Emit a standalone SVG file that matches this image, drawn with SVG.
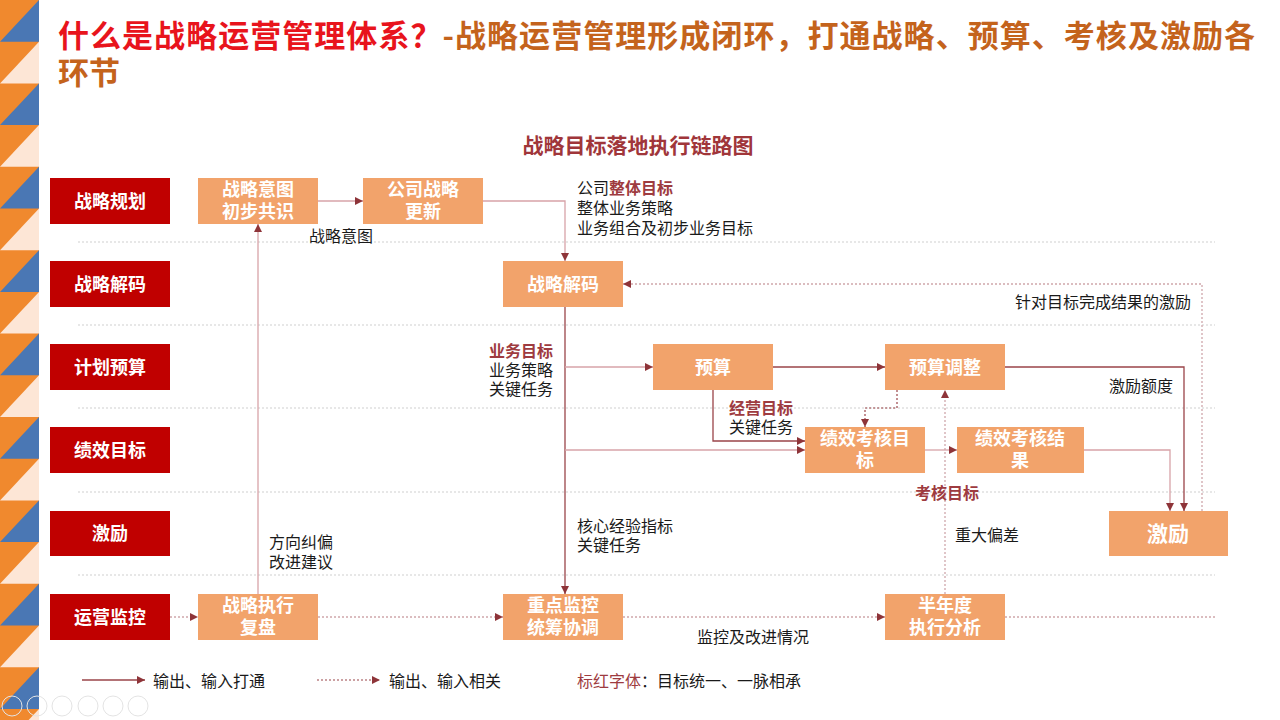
<svg xmlns="http://www.w3.org/2000/svg" width="1280" height="720" viewBox="0 0 1280 720">
<defs>
<style>
text{font-family:"Noto Sans CJK SC","Noto Sans",sans-serif;}
.rl{fill:#c00000;}
.rlt{fill:#ffffff;font-size:18px;font-weight:bold;text-anchor:middle;}
.nd{fill:#f2a36b;}
.ndt{fill:#ffffff;font-size:18px;font-weight:bold;text-anchor:middle;}
.lb{fill:#1a1a1a;font-size:16px;}
.red{fill:#9e3b40;font-weight:bold;}
.sep{stroke:#cfcfcf;stroke-width:1;stroke-dasharray:2 2;fill:none;}
.sl{stroke:#d7a3a8;stroke-width:1.3;fill:none;}
.sd{stroke:#9a4449;stroke-width:1.3;fill:none;}
.dl{stroke:#cfa7ab;stroke-width:1.3;stroke-dasharray:2 2;fill:none;}
.dd{stroke:#9a4449;stroke-width:1.2;stroke-dasharray:2 2;fill:none;}
</style>
<marker id="ah" viewBox="0 0 10 10" refX="10" refY="5" markerWidth="8" markerHeight="8" markerUnits="userSpaceOnUse" orient="auto">
<path d="M0,0 L10,5 L0,10 z" fill="#8e3439"/>
</marker>
</defs>
<rect width="1280" height="720" fill="#ffffff"/>
<g id="strip">
<rect x="0" y="0" width="39" height="720" fill="#f0892e"/>
<polygon points="0,41.7 39,0 39,41.7" fill="#4a77b4"/>
<polygon points="0,83.4 39,41.7 39,83.4" fill="#fde6d6"/>
<polygon points="0,125.1 39,83.4 39,125.1" fill="#4a77b4"/>
<polygon points="0,166.8 39,125.1 39,166.8" fill="#fde6d6"/>
<polygon points="0,208.5 39,166.8 39,208.5" fill="#4a77b4"/>
<polygon points="0,250.2 39,208.5 39,250.2" fill="#fde6d6"/>
<polygon points="0,291.9 39,250.2 39,291.9" fill="#4a77b4"/>
<polygon points="0,333.6 39,291.9 39,333.6" fill="#fde6d6"/>
<polygon points="0,375.3 39,333.6 39,375.3" fill="#4a77b4"/>
<polygon points="0,417 39,375.3 39,417" fill="#fde6d6"/>
<polygon points="0,458.7 39,417 39,458.7" fill="#4a77b4"/>
<polygon points="0,500.4 39,458.7 39,500.4" fill="#fde6d6"/>
<polygon points="0,542.1 39,500.4 39,542.1" fill="#4a77b4"/>
<polygon points="0,583.8 39,542.1 39,583.8" fill="#fde6d6"/>
<polygon points="0,625.5 39,583.8 39,625.5" fill="#4a77b4"/>
<polygon points="0,667.2 39,625.5 39,667.2" fill="#fde6d6"/>
<polygon points="0,708.9 39,667.2 39,708.9" fill="#4a77b4"/>
<polygon points="0,750.6 39,708.9 39,750.6" fill="#fde6d6"/>
</g>
<g id="title">
<text x="58" y="47" font-size="31" font-weight="bold" textLength="1197" lengthAdjust="spacing"><tspan fill="#e8141c">什么是战略运营管理体系？</tspan><tspan fill="#c4631c">-战略运营管理形成闭环，打通战略、预算、考核及激励各</tspan></text>
<text x="58" y="84" font-size="31" font-weight="bold" fill="#c4631c">环节</text>
<text x="638" y="153" font-size="21" font-weight="bold" fill="#a0363a" text-anchor="middle">战略目标落地执行链路图</text>
</g>
<g id="separators">
<line class="sep" x1="78" y1="242" x2="1215" y2="242"/>
<line class="sep" x1="78" y1="325" x2="1215" y2="325"/>
<line class="sep" x1="78" y1="408" x2="1215" y2="408"/>
<line class="sep" x1="78" y1="492" x2="1215" y2="492"/>
<line class="sep" x1="78" y1="575" x2="1215" y2="575"/>
</g>
<g id="row-labels">
<g id="row1"><rect class="rl" x="50" y="178" width="120" height="46"/><text class="rlt" x="110" y="207.5">战略规划</text></g>
<g id="row2"><rect class="rl" x="50" y="261" width="120" height="46"/><text class="rlt" x="110" y="290.5">战略解码</text></g>
<g id="row3"><rect class="rl" x="50" y="344" width="120" height="46"/><text class="rlt" x="110" y="373.5">计划预算</text></g>
<g id="row4"><rect class="rl" x="50" y="427" width="120" height="46"/><text class="rlt" x="110" y="456.5">绩效目标</text></g>
<g id="row5"><rect class="rl" x="50" y="511" width="120" height="45"/><text class="rlt" x="110" y="540">激励</text></g>
<g id="row6"><rect class="rl" x="50" y="594" width="120" height="46"/><text class="rlt" x="110" y="623.5">运营监控</text></g>
</g>
<g id="connectors">
<path class="sl" d="M258,594 V224" marker-end="url(#ah)"/>
<path class="sl" d="M318,201 H363" marker-end="url(#ah)"/>
<path class="sl" d="M483,201 H565 V261" marker-end="url(#ah)"/>
<path class="sd" d="M565,307 V594" marker-end="url(#ah)"/>
<path class="sl" d="M565,367 H653" marker-end="url(#ah)"/>
<path class="sl" d="M565,450 H805" marker-end="url(#ah)"/>
<path class="sd" d="M713,390 V441 H805" marker-end="url(#ah)"/>
<path class="sd" d="M773,367 H885" marker-end="url(#ah)"/>
<path class="dd" d="M897,390 V408 H865 V427" marker-end="url(#ah)"/>
<path class="sl" d="M925,450 H957" marker-end="url(#ah)"/>
<path class="sl" d="M1084,450 H1170 V511" marker-end="url(#ah)"/>
<path class="sd" d="M1005,367 H1184 V511" marker-end="url(#ah)"/>
<path class="dl" d="M1202,511 V284 H623" marker-end="url(#ah)"/>
<path class="dl" d="M945,594 V390" marker-end="url(#ah)"/>
<path class="dl" d="M170,617 H198" marker-end="url(#ah)"/>
<path class="dl" d="M318,617 H503" marker-end="url(#ah)"/>
<path class="dl" d="M623,617 H885" marker-end="url(#ah)"/>
<path class="dl" d="M1005,617 H1215"/>
</g>
<g id="n-yitu"><rect class="nd" x="198" y="178" width="120" height="46"/><text class="ndt" x="258" y="196">战略意图</text><text class="ndt" x="258" y="218">初步共识</text></g>
<g id="n-gengxin"><rect class="nd" x="363" y="178" width="120" height="46"/><text class="ndt" x="423" y="196">公司战略</text><text class="ndt" x="423" y="218">更新</text></g>
<g id="n-jiema"><rect class="nd" x="503" y="261" width="120" height="46"/><text class="ndt" x="563" y="290.5">战略解码</text></g>
<g id="n-yusuan"><rect class="nd" x="653" y="344" width="120" height="46"/><text class="ndt" x="713" y="373.5">预算</text></g>
<g id="n-tiaozheng"><rect class="nd" x="885" y="344" width="120" height="46"/><text class="ndt" x="945" y="373.5">预算调整</text></g>
<g id="n-kpimubiao"><rect class="nd" x="805" y="427" width="120" height="46"/><text class="ndt" x="865" y="445">绩效考核目</text><text class="ndt" x="865" y="467">标</text></g>
<g id="n-kpijieguo"><rect class="nd" x="957" y="427" width="127" height="46"/><text class="ndt" x="1020" y="445">绩效考核结</text><text class="ndt" x="1020" y="467">果</text></g>
<g id="n-jili"><rect class="nd" x="1109" y="511" width="119" height="45"/><text class="ndt" x="1168" y="541" style="font-size:21px">激励</text></g>
<g id="n-fupan"><rect class="nd" x="198" y="594" width="120" height="46"/><text class="ndt" x="258" y="612">战略执行</text><text class="ndt" x="258" y="634">复盘</text></g>
<g id="n-jiankong"><rect class="nd" x="503" y="594" width="120" height="46"/><text class="ndt" x="563" y="612">重点监控</text><text class="ndt" x="563" y="634">统筹协调</text></g>
<g id="n-bannian"><rect class="nd" x="885" y="594" width="120" height="46"/><text class="ndt" x="945" y="612">半年度</text><text class="ndt" x="945" y="634">执行分析</text></g>
<g id="labels">
<text class="lb" x="309" y="242">战略意图</text>
<text class="lb" x="577" y="194">公司<tspan class="red">整体目标</tspan></text>
<text class="lb" x="577" y="214">整体业务策略</text>
<text class="lb" x="577" y="234">业务组合及初步业务目标</text>
<text class="lb" x="1015" y="308">针对目标完成结果的激励</text>
<text class="lb red" x="489" y="357">业务目标</text>
<text class="lb" x="489" y="376">业务策略</text>
<text class="lb" x="489" y="395">关键任务</text>
<text class="lb red" x="729" y="414">经营目标</text>
<text class="lb" x="729" y="433">关键任务</text>
<text class="lb" x="1109" y="392">激励额度</text>
<text class="lb red" x="915" y="499">考核目标</text>
<text class="lb" x="955" y="541">重大偏差</text>
<text class="lb" x="577" y="532">核心经验指标</text>
<text class="lb" x="577" y="551">关键任务</text>
<text class="lb" x="269" y="548">方向纠偏</text>
<text class="lb" x="269" y="568">改进建议</text>
<text class="lb" x="697" y="643">监控及改进情况</text>
</g>
<g id="legend">
<line class="sd" x1="82" y1="680" x2="145" y2="680" marker-end="url(#ah)"/>
<text class="lb" x="153" y="687">输出、输入打通</text>
<line class="dd" x1="317" y1="680" x2="380" y2="680" marker-end="url(#ah)"/>
<text class="lb" x="389" y="687">输出、输入相关</text>
<text class="lb" x="577" y="687"><tspan fill="#9e3b40">标红字体</tspan>：目标统一、一脉相承</text>
</g>
<g id="controls" fill="none" stroke="#e4e4e4" stroke-width="1">
<circle cx="12" cy="706" r="10"/>
<circle cx="37" cy="706" r="10"/>
<circle cx="62" cy="706" r="10"/>
<circle cx="88" cy="706" r="10"/>
<circle cx="113" cy="706" r="10"/>
<circle cx="138" cy="706" r="10"/>
</g>
</svg>
